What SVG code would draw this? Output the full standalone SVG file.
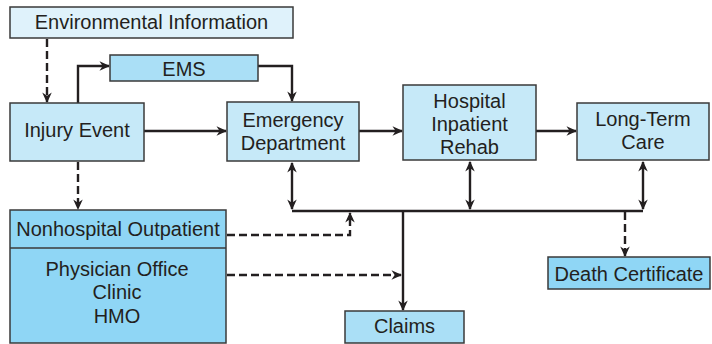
<svg xmlns="http://www.w3.org/2000/svg" width="712" height="344" viewBox="0 0 712 344">
  <defs>
    <marker id="arr" viewBox="0 0 10 10" refX="9" refY="5" markerWidth="4.4" markerHeight="4.4" orient="auto-start-reverse" markerUnits="strokeWidth">
      <path d="M0,0.5 L10,5 L0,9.5 L3,5 Z" fill="#231f20"/>
    </marker>
  </defs>
  <style>
    .box { stroke: #3a3a3a; stroke-width: 1.5; }
    .light { fill: #c6e9f8; }
    .pale { fill: #dff2fb; }
    .mid { fill: #aadff6; }
    .deep { fill: #8fd6f5; }
    text { font-family: "Liberation Sans", Arial, sans-serif; font-size: 20px; fill: #231f20; text-anchor: middle; }
    .ln { fill: none; stroke: #231f20; stroke-width: 2.4; }
    .dash { stroke-dasharray: 8 4; }
  </style>

  <g id="connectors">
    <!-- environment to injury -->
    <path class="ln dash" d="M47,39 V102" marker-end="url(#arr)"/>
    <!-- injury to EMS -->
    <path class="ln" d="M78,103 V66 H109" marker-end="url(#arr)"/>
    <!-- EMS to emergency department -->
    <path class="ln" d="M258,66 H292 V101" marker-end="url(#arr)"/>
    <!-- main flow -->
    <path class="ln" d="M144,131 H226" marker-end="url(#arr)"/>
    <path class="ln" d="M359,131 H402" marker-end="url(#arr)"/>
    <path class="ln" d="M536,131 H576" marker-end="url(#arr)"/>
    <!-- injury to outpatient -->
    <path class="ln dash" d="M78,162 V209" marker-end="url(#arr)"/>
    <!-- shared bus -->
    <path class="ln" d="M292,211 H643"/>
    <path class="ln" d="M292,163 V209" marker-start="url(#arr)" marker-end="url(#arr)"/>
    <path class="ln" d="M470,162 V209" marker-start="url(#arr)" marker-end="url(#arr)"/>
    <path class="ln" d="M643,162 V209" marker-start="url(#arr)" marker-end="url(#arr)"/>
    <!-- bus to claims -->
    <path class="ln" d="M403,211 V310" marker-end="url(#arr)"/>
    <!-- bus to death certificate -->
    <path class="ln dash" d="M625,212 V256" marker-end="url(#arr)"/>
    <!-- outpatient to bus -->
    <path class="ln dash" d="M227,235 H350 V213" marker-end="url(#arr)"/>
    <!-- physician office to claims line -->
    <path class="ln dash" d="M227,275 H401" marker-end="url(#arr)"/>
  </g>

  <g id="environmental">
    <rect class="box pale" x="10" y="7" width="283" height="31"/>
    <text x="151.5" y="29">Environmental Information</text>
  </g>
  <g id="ems">
    <rect class="box mid" x="110" y="55" width="148" height="26"/>
    <text x="184" y="76">EMS</text>
  </g>
  <g id="injury">
    <rect class="box light" x="10" y="103" width="134" height="58"/>
    <text x="77" y="136.5">Injury Event</text>
  </g>
  <g id="emergency">
    <rect class="box light" x="227" y="102" width="132" height="59"/>
    <text x="293" y="127">Emergency</text>
    <text x="293" y="150">Department</text>
  </g>
  <g id="hospital">
    <rect class="box light" x="403" y="85" width="133" height="75"/>
    <text x="469.5" y="108">Hospital</text>
    <text x="469.5" y="131">Inpatient</text>
    <text x="469.5" y="153.5">Rehab</text>
  </g>
  <g id="longterm">
    <rect class="box light" x="577" y="103" width="132" height="57"/>
    <text x="643" y="125.5">Long-Term</text>
    <text x="643" y="148.5">Care</text>
  </g>
  <g id="outpatient">
    <rect class="box deep" x="10" y="210" width="216" height="133"/>
    <line class="box" x1="10" y1="248" x2="226" y2="248"/>
    <text x="118" y="236">Nonhospital Outpatient</text>
    <text x="117" y="275.5">Physician Office</text>
    <text x="117" y="299">Clinic</text>
    <text x="117" y="323">HMO</text>
  </g>
  <g id="claims">
    <rect class="box mid" x="345" y="311" width="119" height="32"/>
    <text x="404.5" y="332.5">Claims</text>
  </g>
  <g id="death">
    <rect class="box deep" x="548" y="257" width="162" height="32"/>
    <text x="629" y="281">Death Certificate</text>
  </g>
</svg>
